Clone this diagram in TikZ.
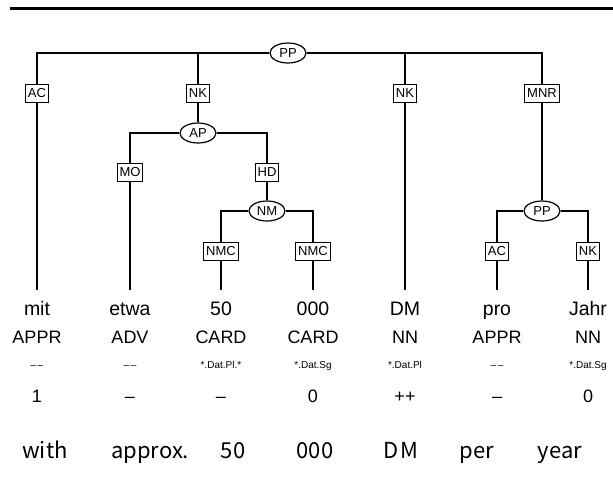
\documentclass[tikz,border=0pt]{standalone}
\usepackage{fontspec}
\setmainfont{Liberation Sans}
\newfontfamily\glossfont{Noto Sans CJK SC}
\usetikzlibrary{shapes.geometric}

\newcommand{\nomorph}{\textendash\kern1.5pt\textendash}

\tikzset{
	cat/.style={draw, ellipse, minimum width=36pt, minimum height=20pt, inner sep=0pt, fill=white, font=\fontsize{13}{13}\selectfont},
	lab/.style={draw, rectangle, line width=1pt, minimum height=18pt, inner xsep=2.5pt, inner ysep=0pt, fill=white, font=\fontsize{13}{13}\selectfont},
	word/.style={anchor=base, inner ysep=0pt, text height=14pt, outer ysep=11pt, font=\fontsize{19.5}{19.5}\selectfont},
	tagtext/.style={anchor=base, inner sep=0pt, font=\fontsize{18}{18}\selectfont},
	morph/.style={anchor=base, inner sep=0pt, font=\fontsize{10}{10}\selectfont},
	num/.style={anchor=base, inner sep=0pt, font=\fontsize{18}{18}\selectfont},
	gloss/.style={anchor=base, inner sep=0pt, font=\glossfont\fontsize{22}{22}\selectfont}
}

\begin{document}
\begin{tikzpicture}[x=1pt, y=-1pt, line width=1.2pt]
\useasboundingbox (0,0) rectangle (613,499);

% RULE
\draw[line width=3pt] (10,8) -- (613,8);

% NODES
\node[cat] (pp) at (288,53) {PP};
\node[lab] (ac1) at (37,93) {AC};
\node[lab] (nk1) at (198,93) {NK};
\node[lab] (nk2) at (405,93) {NK};
\node[lab] (mnr) at (542,93) {MNR};

\node[cat] (ap) at (198,133) {AP};
\node[lab] (mo) at (130,172) {MO};
\node[lab] (hd) at (267,172) {HD};

\node[cat] (nm) at (267,211) {NM};
\node[lab] (nmc1) at (221,251) {NMC};
\node[lab] (nmc2) at (313,251) {NMC};

\node[cat] (pp2) at (542,211) {PP};
\node[lab] (ac2) at (497,251) {AC};
\node[lab] (nk3) at (588,251) {NK};

% LEAVES
\foreach \i/\x/\w/\p/\m/\n in{
	1/37/mit/APPR/\nomorph/1,
	2/130/etwa/ADV/\nomorph/–,
	3/221/50/CARD/*.Dat.Pl.*/–,
	4/313/000/CARD/*.Dat.Sg/0,
	5/405/DM/NN/*.Dat.Pl/++,
	6/497/pro/APPR/\nomorph/–,
	7/588/Jahr/NN/*.Dat.Sg/0%
}{
	\node[word] (w\i) at(\x,315) {\w};
	\node[tagtext] (p\i) at(\x,343) {\p};
	\node[morph] (m\i) at(\x,368) {\m};
	\node[num] (n\i) at(\x,402) {\n};
}

% GLOSS
\foreach \i/\x/\g in{
	1/45/with, 2/150/approx., 3/233/50, 4/315/000,
	5/401/D\kern2pt M, 6/477/per, 7/560/year%
}{
	\node[gloss] (g\i) at(\x,458) {\g};
}

% EDGES
\foreach \u/\v in{
	pp/ac1, pp/nk1, pp/nk2, pp/mnr, ap/mo, ap/hd, nm/nmc1, nm/nmc2, pp2/ac2, pp2/nk3%
}{
	\draw (\u) -| (\v);
}

\foreach \u/\v in{
	ac1/w1, nk1/ap, mo/w2, hd/nm, nmc1/w3, nmc2/w4, nk2/w5, mnr/pp2, ac2/w6, nk3/w7%
}{
	\draw (\u) -- (\v);
}

\end{tikzpicture}
\end{document}
